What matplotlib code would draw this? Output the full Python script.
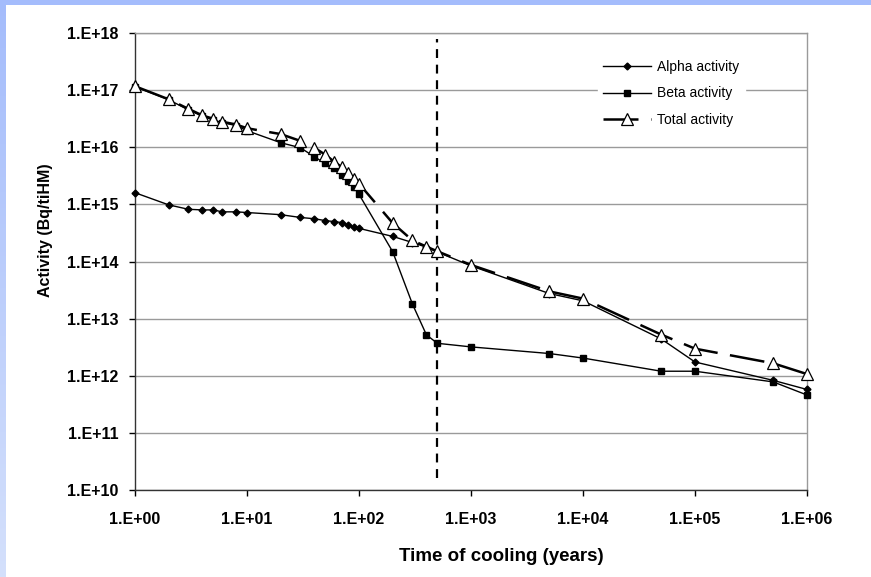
import numpy as np
import matplotlib
matplotlib.use("Agg")
import matplotlib.pyplot as plt
from matplotlib.ticker import FixedLocator, NullLocator

# ---- data ----
t_alpha = [1, 2, 3, 4, 5, 6, 8, 10, 20, 30, 40, 50, 60, 70, 80, 90, 100,
           200, 300, 400, 500, 1000, 5000, 10000, 50000, 100000, 500000, 1000000]
alpha = [1.6e15, 9.8e14, 8.2e14, 8.0e14, 8.0e14, 7.4e14, 7.4e14, 7.2e14,
         6.6e14, 5.9e14, 5.6e14, 5.2e14, 5.0e14, 4.8e14, 4.4e14, 4.0e14, 3.8e14,
         2.75e14, 2.15e14, 1.78e14, 1.47e14, 8.4e13, 2.75e13, 2.05e13,
         4.4e12, 1.74e12, 8.3e11, 5.75e11]

t_beta = [1, 2, 3, 4, 5, 6, 8, 10, 20, 30, 40, 50, 60, 70, 80, 90, 100,
          200, 300, 400, 500, 1000, 5000, 10000, 50000, 100000, 500000, 1000000]
beta = [1.15e17, 6.8e16, 4.5e16, 3.5e16, 3.0e16, 2.7e16, 2.4e16, 1.95e16,
        1.2e16, 9.8e15, 6.8e15, 5.2e15, 4.3e15, 3.3e15, 2.6e15, 2.0e15, 1.5e15,
        1.48e14, 1.8e13, 5.2e12, 3.7e12, 3.2e12, 2.45e12, 2.04e12,
        1.2e12, 1.2e12, 7.8e11, 4.6e11]

t_total = [1, 2, 3, 4, 5, 6, 8, 10, 20, 30, 40, 50, 60, 70, 80, 90, 100,
           200, 300, 400, 500, 1000, 5000, 10000, 50000, 100000, 500000, 1000000]
total = [1.17e17, 6.9e16, 4.7e16, 3.6e16, 3.15e16, 2.8e16, 2.5e16, 2.15e16,
         1.7e16, 1.29e16, 9.8e15, 7.4e15, 5.6e15, 4.5e15, 3.5e15, 2.8e15, 2.3e15,
         4.7e14, 2.34e14, 1.82e14, 1.51e14, 8.7e13, 3.0e13, 2.24e13,
         5.25e12, 2.98e12, 1.65e12, 1.07e12]

cutoff_year = 500

x_ticks = [1e0, 1e1, 1e2, 1e3, 1e4, 1e5, 1e6]
x_tick_labels = ["1.E+00", "1.E+01", "1.E+02", "1.E+03", "1.E+04", "1.E+05", "1.E+06"]
y_ticks = [1e10, 1e11, 1e12, 1e13, 1e14, 1e15, 1e16, 1e17, 1e18]
y_tick_labels = ["1.E+10", "1.E+11", "1.E+12", "1.E+13", "1.E+14",
                 "1.E+15", "1.E+16", "1.E+17", "1.E+18"]

plt.rcParams['font.family'] = ['Liberation Sans', 'DejaVu Sans']

W, H = 871, 577
fig = plt.figure(figsize=(W / 100, H / 100), dpi=100)
fig.patch.set_facecolor("white")

# blue slide border (top and left strips)
bg = fig.add_axes([0, 0, 1, 1], zorder=-10)
img = np.ones((H, W, 3))
top_c = np.array([0xa4, 0xbc, 0xfc]) / 255.0
bot_c = np.array([0xd4, 0xe0, 0xfb]) / 255.0
frac = np.linspace(0, 1, H)[:, None]
grad = top_c[None, :] * (1 - frac) + bot_c[None, :] * frac
img[:, :6, :] = grad[:, None, :]
img[:5, :, :] = top_c
bg.imshow(img, aspect="auto", interpolation="nearest")
bg.axis("off")

ax = fig.add_axes([135 / W, 1 - 490 / H, (807 - 135) / W, (490 - 33) / H])
ax.set_xscale("log")
ax.set_yscale("log")
ax.set_xlim(1, 1e6)
ax.set_ylim(1e10, 1e18)

for yv in y_ticks:
    ax.axhline(yv, color="#9a9a9a", lw=1.0, zorder=1)

ax.plot(t_alpha, alpha, color="black", lw=1.0, marker="D", markersize=3.5,
        markerfacecolor="black", markeredgecolor="black", zorder=3,
        clip_on=False, label="Alpha activity")
ax.plot(t_beta, beta, color="black", lw=1.0, marker="s", markersize=4.5,
        markerfacecolor="black", markeredgecolor="black", zorder=3,
        clip_on=False, label="Beta activity")
ax.plot(t_total, total, color="black", lw=1.8, dashes=(14, 5), marker="^",
        markersize=8.5, markerfacecolor="white", markeredgecolor="black",
        markeredgewidth=0.9, zorder=4, clip_on=False, label="Total activity")

ax.plot([cutoff_year, cutoff_year], [1.6e10, 8e17], color="black", lw=1.6,
        dashes=(4, 3), zorder=2)

ax.xaxis.set_major_locator(FixedLocator(x_ticks))
ax.xaxis.set_minor_locator(NullLocator())
ax.yaxis.set_major_locator(FixedLocator(y_ticks))
ax.yaxis.set_minor_locator(NullLocator())
ax.set_xticklabels(x_tick_labels)
ax.set_yticklabels(y_tick_labels)
ax.tick_params(axis="both", direction="out", length=4, width=1,
               labelsize=11.5)
for lab in ax.get_xticklabels() + ax.get_yticklabels():
    lab.set_fontweight("bold")
ax.tick_params(axis="x", pad=12)
ax.tick_params(axis="y", pad=8)

for s in ["left", "bottom"]:
    ax.spines[s].set_color("#333333")
    ax.spines[s].set_linewidth(1.0)
for s in ["right", "top"]:
    ax.spines[s].set_color("#9a9a9a")
    ax.spines[s].set_linewidth(1.0)

ax.set_xlabel("Time of cooling (years)", fontsize=13.5, fontweight="bold")
ax.xaxis.set_label_coords(0.545, -0.127)
ax.set_ylabel("Activity (Bq/tiHM)", fontsize=11.5, fontweight="bold")
ax.yaxis.set_label_coords(-0.122, 0.569)

leg = ax.legend(loc="upper left", bbox_to_anchor=(0.678, 0.969), frameon=True,
                fontsize=10, handlelength=3.45, handletextpad=0.43,
                labelspacing=0.92, borderpad=0.4)
leg.get_frame().set_edgecolor("white")
leg.get_frame().set_facecolor("white")
leg.get_frame().set_alpha(1)
leg.get_frame().set_boxstyle("square", pad=0.0)

fig.savefig("out.png", dpi=100)
